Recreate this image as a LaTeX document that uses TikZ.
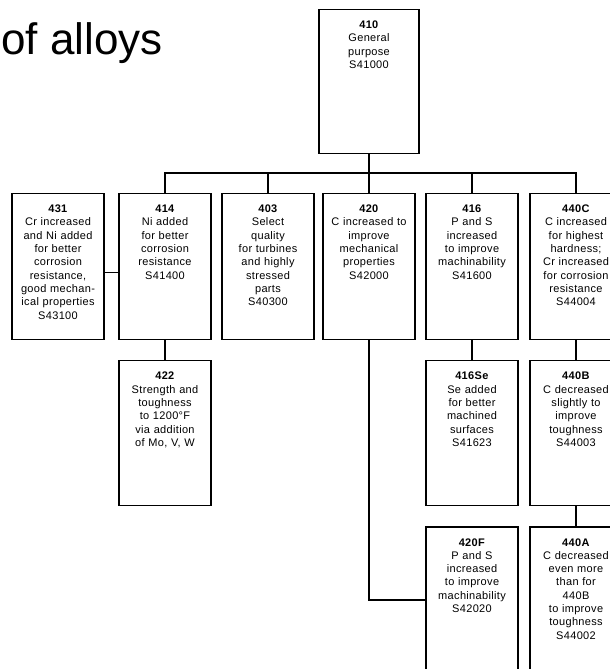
\documentclass[tikz,border=0pt]{standalone}
\usepackage{fontspec}
\setmainfont[LetterSpace=3,WordSpace=1.5]{Liberation Sans}
\newfontfamily\titlefont{Liberation Sans}
\usetikzlibrary{positioning}

\begin{document}
\begin{tikzpicture}[x=1pt, y=-1pt,
  every node/.style={font=\fontsize{11}{13.3}\selectfont},
  alloybox/.style={draw, line width=1.2pt, text width=88pt, align=center,
    inner xsep=2pt, inner ysep=4pt, text height=15pt, text depth=#1, anchor=north},
  alloybox/.default=123pt,
  link/.style={line width=1.6pt}]
  \useasboundingbox (0,0) rectangle (610,669);
  \clip (0,0) rectangle (610,669);

  \node[font=\titlefont\fontsize{44}{48}\selectfont, anchor=base west, inner sep=0pt] (title) at (1,55) {of alloys};

  % top of the family
  \node[alloybox=121pt, text width=96pt] (p410) at (369,9) {\textbf{410}\\General\\purpose\\S41000};

  % first row
  \node[alloybox] (p431) at (58,193) {\textbf{431}\\Cr increased\\and Ni added\\for better\\corrosion\\resistance,\\good mechan-\\ical properties\\S43100};
  \node[alloybox] (p414) at (165,193) {\textbf{414}\\Ni added\\for better\\corrosion\\resistance\\S41400};
  \node[alloybox] (p403) at (268,193) {\textbf{403}\\Select\\quality\\for turbines\\and highly\\stressed\\parts\\S40300};
  \node[alloybox] (p420) at (369,193) {\textbf{420}\\C increased to\\improve\\mechanical\\properties\\S42000};
  \node[alloybox] (p416) at (472,193) {\textbf{416}\\P and S\\increased\\to improve\\machinability\\S41600};
  \node[alloybox] (p440C) at (576,193) {\textbf{440C}\\C increased\\for highest\\hardness;\\Cr increased\\for corrosion\\resistance\\S44004};

  % second row
  \node[alloybox=122pt, below=20pt of p414] (p422) {\textbf{422}\\Strength and\\toughness\\to 1200°F\\via addition\\of Mo, V, W};
  \node[alloybox=122pt, below=20pt of p416] (p416Se) {\textbf{416Se}\\Se added\\for better\\machined\\surfaces\\S41623};
  \node[alloybox=122pt, below=20pt of p440C] (p440B) {\textbf{440B}\\C decreased\\slightly to\\improve\\toughness\\S44003};

  % third row
  \node[alloybox, below=20pt of p416Se] (p420F) {\textbf{420F}\\P and S\\increased\\to improve\\machinability\\S42020};
  \node[alloybox, below=20pt of p440B] (p440A) {\textbf{440A}\\C decreased\\even more\\than for\\440B\\to improve\\toughness\\S44002};

  % connectors
  \coordinate (bus) at (0,173);
  \foreach \kid in {p414,p403,p420,p416,p440C}
    \draw[link] (p410.south) -- (p410.south |- bus) -| (\kid.north);
  \draw[link] ([yshift=-6pt]p431.east) -- ([yshift=-6pt]p414.west);
  \draw[link] (p414.south) -- (p422.north);
  \draw[link] (p416.south) -- (p416Se.north);
  \draw[link] (p440C.south) -- (p440B.north);
  \draw[link] (p440B.south) -- (p440A.north);
  \draw[link] (p420.south) |- (p420F.west);
\end{tikzpicture}
\end{document}
